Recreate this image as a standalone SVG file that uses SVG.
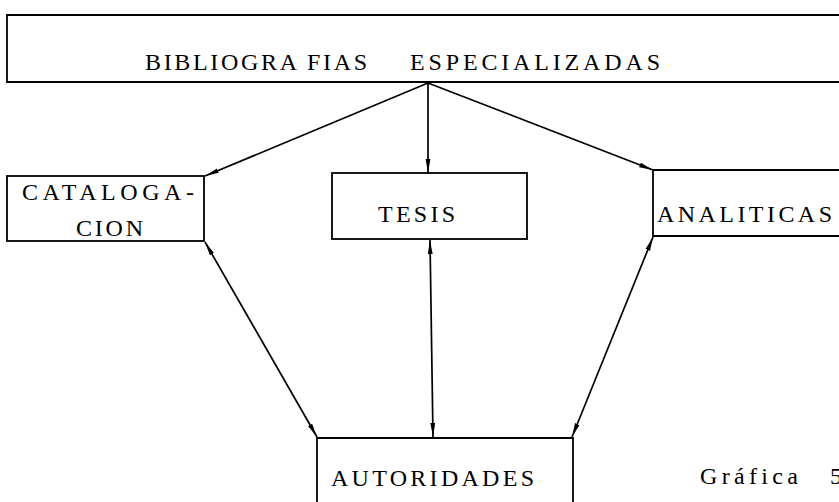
<svg xmlns="http://www.w3.org/2000/svg" width="839" height="502" viewBox="0 0 839 502">
<defs>
<marker id="ah" viewBox="0 0 14 6" refX="14" refY="3" markerWidth="14" markerHeight="6" markerUnits="userSpaceOnUse" orient="auto-start-reverse">
<path d="M0,0.6 L14,3 L0,5.4 z" fill="#000"/>
</marker>
</defs>
<style>
.box{fill:#fff;stroke:#000;stroke-width:1.8}
.t{font-family:"Liberation Serif","DejaVu Serif",serif;font-size:24px;fill:#000}
.c{fill:none;stroke:#000;stroke-width:1.7}
</style>
<rect width="839" height="502" fill="#fff"/>
<g id="bibliografias">
<path class="box" d="M845,15 L7,15 L7,82 L845,82"/>
<text class="t" x="145" y="70" textLength="222" lengthAdjust="spacing">BIBLIOGRA FIAS</text>
<text class="t" x="410" y="70" textLength="250" lengthAdjust="spacing">ESPECIALIZADAS</text>
</g>
<g id="catalogacion">
<rect class="box" x="7" y="176" width="197" height="65"/>
<text class="t" x="22" y="200" textLength="172" lengthAdjust="spacing">CATALOGA-</text>
<text class="t" x="76" y="236" textLength="67" lengthAdjust="spacing">CION</text>
</g>
<g id="tesis">
<rect class="box" x="332" y="173" width="195" height="66"/>
<text class="t" x="378" y="222" textLength="77" lengthAdjust="spacing">TESIS</text>
</g>
<g id="analiticas">
<path class="box" d="M845,170 L653,170 L653,236 L845,236"/>
<text class="t" x="657" y="222" textLength="175" lengthAdjust="spacing">ANALITICAS</text>
</g>
<g id="autoridades">
<path class="box" d="M317,510 L317,438 L573,438 L573,510"/>
<text class="t" x="331" y="486" textLength="203" lengthAdjust="spacing">AUTORIDADES</text>
</g>
<g id="label">
<text class="t" x="700" y="484" textLength="98" lengthAdjust="spacing">Gráfica</text>
<text class="t" x="830" y="484">5</text>
</g>
<g id="connectors">
<line class="c" x1="428" y1="83" x2="205" y2="176" marker-end="url(#ah)"/>
<line class="c" x1="428" y1="83" x2="428" y2="173" marker-end="url(#ah)"/>
<line class="c" x1="428" y1="83" x2="653" y2="170" marker-end="url(#ah)"/>
<line class="c" x1="205" y1="242" x2="317" y2="437" marker-start="url(#ah)" marker-end="url(#ah)"/>
<line class="c" x1="430" y1="240" x2="433" y2="437" marker-start="url(#ah)" marker-end="url(#ah)"/>
<line class="c" x1="653" y1="237" x2="572" y2="437" marker-start="url(#ah)" marker-end="url(#ah)"/>
</g>
</svg>
